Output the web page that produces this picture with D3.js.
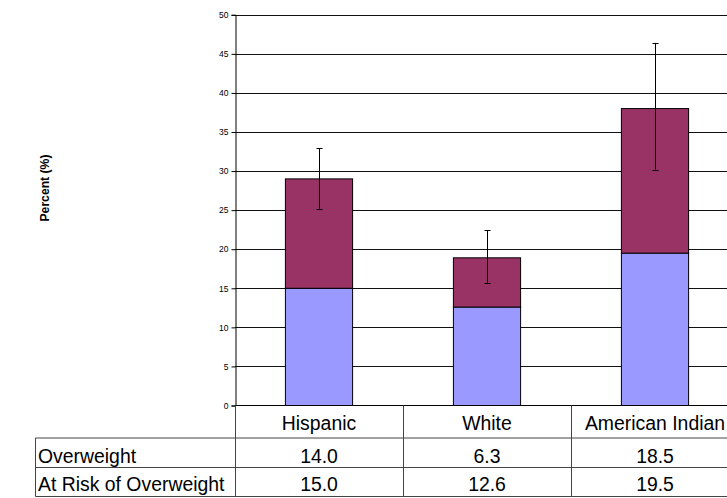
<!DOCTYPE html>
<html>
<head>
<meta charset="utf-8">
<script src="https://cdn.jsdelivr.net/npm/d3@7"></script>
<style>
  body { margin: 0; background: #fff; }
  svg { display: block; }
  text { font-family: "Liberation Sans", Arial, sans-serif; }
</style>
</head>
<body>
<svg id="chart" width="727" height="498"></svg>
<script>
// ---- data ----
const categories = ["Hispanic", "White", "American Indian"];
const seriesNames = ["Overweight", "At Risk of Overweight"];
const atRisk = [15.0, 12.6, 19.5];       // bottom segment
const overweight = [14.0, 6.3, 18.5];    // top segment
const errLow = [25.2, 15.7, 30.2];
const errHigh = [32.9, 22.4, 46.4];
const yTicks = [0, 5, 10, 15, 20, 25, 30, 35, 40, 45, 50];
const tableRows = [overweight, atRisk];
const colors = { atRisk: "#9999FF", overweight: "#993366" };

// ---- layout ----
const svg = d3.select("#chart");
const plotLeft = 235, plotTop = 14.8, plotBottom = 405.5, colW = 168;
const tableLeft = 35.5, row1 = 438, row2 = 467.5, row3 = 496.5;

const x = d3.scaleBand().domain(categories)
  .range([plotLeft, plotLeft + colW * categories.length]).padding(0);
const y = d3.scaleLinear().domain([0, 50]).range([plotBottom, plotTop]);
const barW = x.bandwidth() * 0.4;

// gridlines
svg.append("g").selectAll("line").data(yTicks.filter(d => d > 0)).join("line")
  .attr("x1", plotLeft).attr("x2", 760)
  .attr("y1", d => Math.round(y(d)) + 0.5).attr("y2", d => Math.round(y(d)) + 0.5)
  .attr("stroke", "#111").attr("stroke-width", 1);

// bars
const bars = svg.append("g");
categories.forEach((c, i) => {
  const cx = x(c) + x.bandwidth() / 2;
  bars.append("rect")
    .attr("x", cx - barW / 2).attr("width", barW)
    .attr("y", y(atRisk[i])).attr("height", y(0) - y(atRisk[i]))
    .attr("fill", colors.atRisk).attr("stroke", "#000").attr("stroke-width", 1);
  const tot = atRisk[i] + overweight[i];
  bars.append("rect")
    .attr("x", cx - barW / 2).attr("width", barW)
    .attr("y", y(tot)).attr("height", y(atRisk[i]) - y(tot))
    .attr("fill", colors.overweight).attr("stroke", "#000").attr("stroke-width", 1);
  // error bar
  const eg = bars.append("g").attr("stroke", "#000").attr("stroke-width", 1);
  const ex = Math.round(cx) + 0.5;
  eg.append("line").attr("x1", ex).attr("x2", ex).attr("y1", y(errLow[i])).attr("y2", y(errHigh[i]));
  [errLow[i], errHigh[i]].forEach(v => {
    eg.append("line").attr("x1", ex - 3).attr("x2", ex + 3)
      .attr("y1", Math.round(y(v)) + 0.5).attr("y2", Math.round(y(v)) + 0.5);
  });
});

// y axis
const yAxis = d3.axisLeft(y).tickValues(yTicks).tickSize(4).tickPadding(3).tickFormat(d3.format("d"));
const ga = svg.append("g").attr("transform", `translate(${plotLeft + 0.5},0)`).call(yAxis);
ga.select(".domain").attr("stroke", "#000");
ga.selectAll(".tick line").attr("stroke", "#000");
ga.selectAll(".tick text").attr("font-size", 8.5).attr("fill", "#000")
  .attr("font-family", "Liberation Sans, Arial, sans-serif");

// y label
svg.append("text")
  .attr("transform", "translate(49,188) rotate(-90)")
  .attr("text-anchor", "middle")
  .attr("font-size", 12.2).attr("font-weight", "bold")
  .text("Percent (%)");

// x baseline
svg.append("line").attr("x1", plotLeft).attr("x2", 760)
  .attr("y1", plotBottom).attr("y2", plotBottom).attr("stroke", "#000");

// ---- data table ----
const tg = svg.append("g").attr("stroke", "#444").attr("stroke-width", 1);
categories.concat(["_end"]).forEach((c, i) => {
  const xx = plotLeft + i * colW + 0.5;
  tg.append("line").attr("x1", xx).attr("x2", xx).attr("y1", plotBottom).attr("y2", row3);
});
tg.append("line").attr("x1", tableLeft).attr("x2", tableLeft).attr("y1", row1).attr("y2", row3);
[row1, row2, row3].forEach(r => {
  tg.append("line").attr("x1", tableLeft).attr("x2", 760).attr("y1", r).attr("y2", r);
});

const fs = 19.4;
// header labels
svg.append("g").selectAll("text").data(categories).join("text")
  .attr("x", d => x(d) + x.bandwidth() / 2)
  .attr("y", 430)
  .attr("text-anchor", "middle").attr("font-size", fs).attr("fill", "#000")
  .text(d => d);

// rows
const rowYs = [462.5, 491];
seriesNames.forEach((name, r) => {
  svg.append("text").attr("x", tableLeft + 2.5).attr("y", rowYs[r])
    .attr("font-size", fs).attr("fill", "#000").text(name);
  svg.append("g").selectAll("text").data(categories).join("text")
    .attr("x", d => x(d) + x.bandwidth() / 2)
    .attr("y", rowYs[r])
    .attr("text-anchor", "middle").attr("font-size", fs).attr("fill", "#000")
    .text((d, i) => d3.format(".1f")(tableRows[r][i]));
});
</script>
</body>
</html>
